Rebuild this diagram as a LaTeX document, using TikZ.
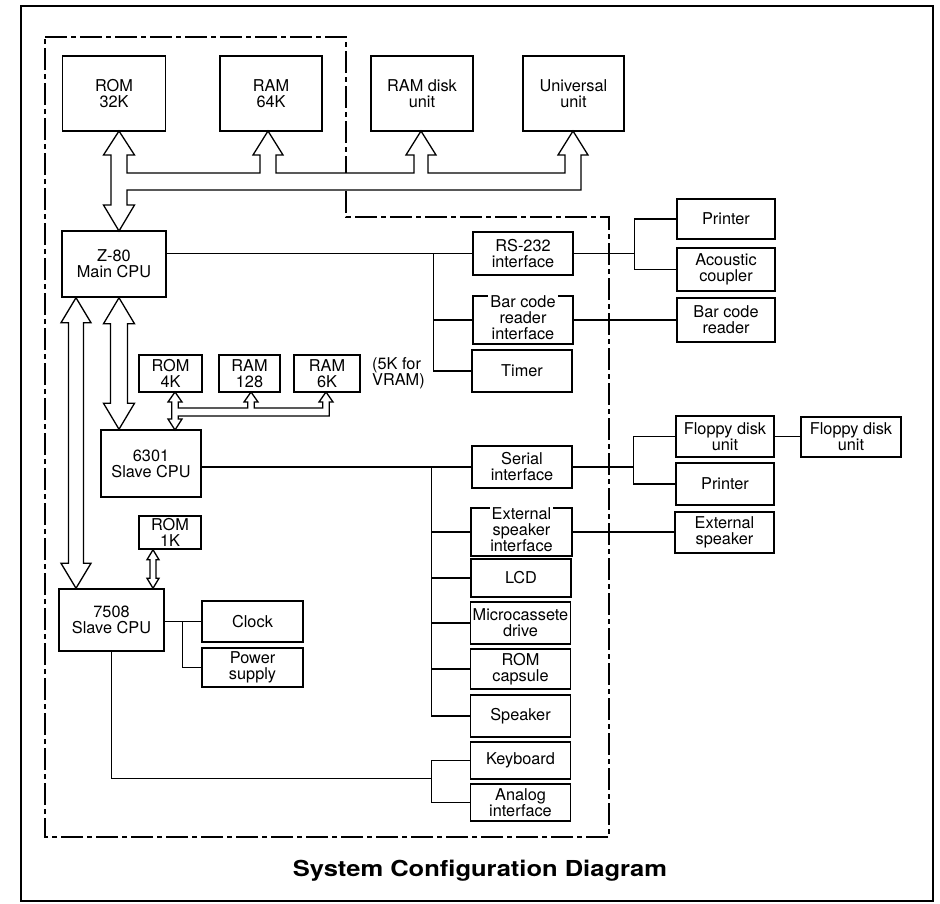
\documentclass[tikz,border=0pt]{standalone}
\usepackage{fontspec}
\setmainfont{TeX Gyre Heros}
\usepackage{graphicx}
\usetikzlibrary{calc}
\newcommand{\blkfont}{\fontsize{16.3}{16}\selectfont}
\newcommand{\topgap}[1]{\vphantom{#1}\smash{{\setlength{\fboxsep}{2pt}\colorbox{white}{#1}}}}
% hollow double arrow: top tip, bottom tip, head half width, shaft half width, head length
\newcommand{\dbus}[5]{%
  \draw[bus] (#1) -- ++(#3,#5) -- ++({#4-#3},0) -- ($(#2)+(#4,-#5)$) -- ++({#3-#4},0) -- (#2)
    -- ++(-#3,-#5) -- ++({#3-#4},0) -- ($(#1)+(-#4,#5)$) -- ++({#4-#3},0) -- cycle;}

\begin{document}
\begin{tikzpicture}[x=1pt,y=-1pt,
  blk/.style={draw, line width=1.5, inner sep=0pt, align=center, font=\blkfont},
  sz/.style 2 args={minimum width=#1, minimum height=#2},
  wire/.style={line width=1.2},
  bus/.style={draw, fill=white, line width=1.3, line join=miter},
  outer/.style={line width=1.7},
  dashframe/.style={line width=1.1, dash pattern=on 22pt off 4pt on 5pt off 4pt}]
  \useasboundingbox (0,0) rectangle (940,903);
  \draw[outer] (21,6) rectangle (933,901);
  \draw[dashframe] (45,37) -- (346,37) -- (346,217) -- (609,217) -- (609,837) -- (45,837) -- cycle;

  % memory and CPUs
  \node[blk,sz={103}{75}] (rom32) at (114,93.5) {ROM\\32K};
  \node[blk,sz={102}{75}] (ram64) at (271,93.5) {RAM\\64K};
  \node[blk,sz={102}{75}] (ramdisk) at (422,93.5) {RAM disk\\unit};
  \node[blk,sz={101}{75}] (univ) at (573.5,93.5) {Universal\\unit};
  \node[blk,sz={104}{66}] (z80) at (114,264) {Z-80\\Main CPU};
  \node[blk,sz={63}{37}] (rom4k) at (170.5,373.5) {ROM\\4K};
  \node[blk,sz={61}{37}] (ram128) at (249.5,373.5) {RAM\\128};
  \node[blk,sz={66}{37}] (ram6k) at (327,373.5) {RAM\\6K};
  \node[font=\blkfont, align=left, anchor=west, inner sep=0pt] (vram) at (372,373.5) {(5K for\\VRAM)};
  \node[blk,sz={100}{67}] (s6301) at (151,463.5) {6301\\Slave CPU};
  \node[blk,sz={62}{33}] (rom1k) at (170,532.5) {ROM\\1K};
  \node[blk,sz={105}{62}] (s7508) at (111.5,620) {7508\\Slave CPU};
  \node[blk,sz={101}{41}] (clock) at (252.5,621.5) {Clock};
  \node[blk,sz={101}{39}] (power) at (252.5,667.5) {Power\\supply};

  % interfaces
  \node[blk,sz={100}{43}] (rs232) at (523,253.5) {RS-232\\interface};
  \node[blk,sz={100}{44},text depth=4pt] (barint) at (523,320) {\topgap{Bar code}\\reader\\interface};
  \node[blk,sz={100}{42}] (timer) at (522,371) {Timer};
  \node[blk,sz={100}{42}] (serial) at (522,467) {Serial\\interface};
  \node[blk,sz={101}{42},text depth=4pt] (extint) at (521.5,532) {\topgap{External}\\speaker\\interface};
  \node[blk,sz={100}{38}] (lcd) at (521,578) {LCD};
  \node[blk,sz={100}{42}] (micro) at (520.5,623) {Microcassete\\drive};
  \node[blk,sz={100}{40}] (romcap) at (520.5,669) {ROM\\capsule};
  \node[blk,sz={100}{42}] (speaker) at (520.5,716) {Speaker};
  \node[blk,sz={100}{37}] (keyboard) at (520.5,760.5) {Keyboard};
  \node[blk,sz={100}{37}] (analog) at (520.5,802.5) {Analog\\interface};

  % peripherals
  \node[blk,sz={98}{40}] (printer1) at (726,219) {Printer};
  \node[blk,sz={98}{43}] (acoustic) at (726,269.5) {Acoustic\\coupler};
  \node[blk,sz={98}{44}] (barrdr) at (726,320) {Bar code\\reader};
  \node[blk,sz={98}{41}] (floppy1) at (725,436.5) {Floppy disk\\unit};
  \node[blk,sz={98}{42}] (printer2) at (725,484) {Printer};
  \node[blk,sz={99}{41}] (extspk) at (724.5,532.5) {External\\speaker};
  \node[blk,sz={100}{40}] (floppy2) at (851,437) {Floppy disk\\unit};

  % main bus
  \draw[bus] (119,131) -- (134.5,155) -- (127,155) -- (127,173) -- (260,173) -- (260,155)
    -- (253,155) -- (268,131) -- (283,155) -- (276,155) -- (276,173) -- (414,173) -- (414,155)
    -- (406,155) -- (421,131) -- (436,155) -- (428,155) -- (428,173) -- (565,173) -- (565,155)
    -- (558,155) -- (573,131) -- (588,155) -- (581,155) -- (581,190) -- (127,190) -- (127,205)
    -- (134.5,205) -- (119,231) -- (103.5,205) -- (111,205) -- (111,155) -- (103.5,155) -- cycle;
  % 6301 bus
  \draw[bus] (175,392) -- (182,402) -- (178.3,402) -- (178.3,408) -- (247.7,408) -- (247.7,402)
    -- (244,402) -- (251,392) -- (258,402) -- (254.3,402) -- (254.3,408) -- (322.7,408)
    -- (322.7,402) -- (319,402) -- (326,392) -- (333,402) -- (329.3,402) -- (329.3,416)
    -- (178.3,416) -- (178.3,419) -- (182,419) -- (175,430) -- (168,419) -- (171.7,419)
    -- (171.7,402) -- (168,402) -- cycle;
  \coordinate (zl) at ($(z80.south)+(-38,0)$);
  \coordinate (zr) at ($(z80.south)+(5,0)$);
  \coordinate (r1k) at ($(rom1k.south)+(-17,0)$);
  \dbus{zl}{zl |- s7508.north}{15}{7.5}{25}
  \dbus{zr}{zr |- s6301.north}{15.5}{8.5}{26}
  \dbus{r1k}{r1k |- s7508.north}{6}{3}{10}

  % Z-80 lines
  \coordinate (jz) at ($(rs232.west)+(-39,0)$);
  \draw[wire] (z80.east |- rs232.west) -- (rs232.west);
  \draw[wire] (jz) |- (timer.west);
  \draw[wire] (jz |- barint.west) -- (barint.west);
  % 6301 lines
  \coordinate (js) at ($(serial.west)+(-40,0)$);
  \draw[wire] (s6301.east |- serial.west) -- (serial.west);
  \draw[wire] (js) |- (speaker.west);
  \foreach \n in {extint,lcd,micro,romcap}
    \draw[wire] (js |- \n.west) -- (\n.west);
  % 7508 lines
  \coordinate (jc) at ($(clock.west)+(-19,0)$);
  \draw[wire] (s7508.east |- clock.west) -- (clock.west);
  \draw[wire] (jc) |- (power.west);
  \coordinate (jk) at ($(keyboard.west)!.5!(analog.west)+(-38,-3)$);
  \draw[wire] (s7508.south) |- (jk);
  \draw[wire] (keyboard.west) -| (jk) |- (analog.west);
  % to peripherals
  \coordinate (jr) at ($(rs232.east)+(61,0)$);
  \draw[wire] (rs232.east) -- (jr);
  \draw[wire] (printer1.west) -| (jr) |- (acoustic.west);
  \draw[wire] (barint.east) -- (barrdr.west);
  \coordinate (jf) at ($(serial.east)+(61,0)$);
  \draw[wire] (serial.east) -- (jf);
  \draw[wire] (floppy1.west) -| (jf) |- (printer2.west);
  \draw[wire] (extint.east) -- (extint.east -| extspk.west);
  \draw[wire] (floppy1.east) -- (floppy1.east -| floppy2.west);

  \node[font=\bfseries\fontsize{22}{22}\selectfont, anchor=base, inner sep=0pt] (title)
    at (480,876) {\scalebox{1.16}[1]{System Configuration Diagram}};
\end{tikzpicture}
\end{document}
